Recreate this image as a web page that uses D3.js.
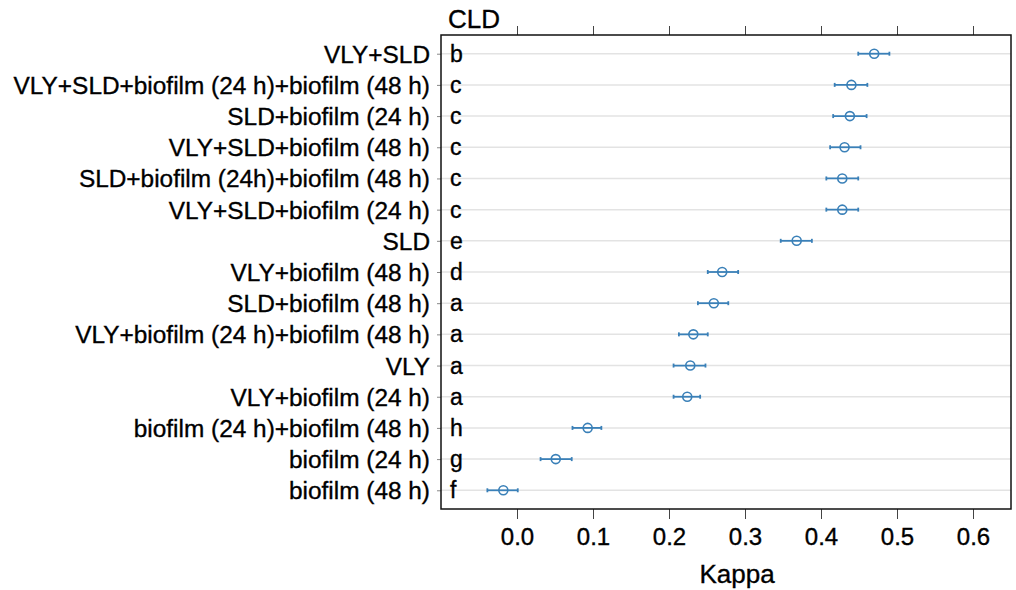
<!DOCTYPE html>
<html>
<head>
<meta charset="utf-8">
<script src="https://cdn.jsdelivr.net/npm/d3@7"></script>
<style>
  body { margin: 0; background: #fff; }
  svg text { font-family: "Liberation Sans", Arial, Helvetica, sans-serif; fill: #000; stroke: #000; stroke-width: 0.35px; }
</style>
</head>
<body>
<svg id="chart" width="1016" height="590"></svg>
<script>
// Groupes, de haut en bas
const groups = [
  'VLY+SLD',
  'VLY+SLD+biofilm (24 h)+biofilm (48 h)',
  'SLD+biofilm (24 h)',
  'VLY+SLD+biofilm (48 h)',
  'SLD+biofilm (24h)+biofilm (48 h)',
  'VLY+SLD+biofilm (24 h)',
  'SLD',
  'VLY+biofilm (48 h)',
  'SLD+biofilm (48 h)',
  'VLY+biofilm (24 h)+biofilm (48 h)',
  'VLY',
  'VLY+biofilm (24 h)',
  'biofilm (24 h)+biofilm (48 h)',
  'biofilm (24 h)',
  'biofilm (48 h)'
]
const cldLetters = ['b', 'c', 'c', 'c', 'c', 'c', 'e', 'd', 'a', 'a', 'a', 'a', 'h', 'g', 'f']
const kappa = [0.470, 0.440, 0.438, 0.431, 0.428, 0.428, 0.368, 0.270, 0.259, 0.232, 0.228, 0.224, 0.093, 0.051, -0.018]
const lower = [0.449, 0.418, 0.416, 0.412, 0.407, 0.407, 0.347, 0.251, 0.238, 0.213, 0.206, 0.206, 0.073, 0.031, -0.039]
const upper = [0.490, 0.461, 0.460, 0.452, 0.449, 0.449, 0.388, 0.291, 0.278, 0.251, 0.248, 0.241, 0.111, 0.072, 0.001]
const xTicks = [0, 0.1, 0.2, 0.3, 0.4, 0.5, 0.6]

const data = groups.map((g, i) => ({ group: g, letter: cldLetters[i], k: kappa[i], lo: lower[i], hi: upper[i] }))

const frame = { left: 441, right: 1011, top: 35, bottom: 509 }
const pointColor = '#3a80b8'

const svg = d3.select('#chart')

const xScale = d3.scaleLinear()
  .domain([-0.1, 0.65])
  .range([frame.left, frame.right])

const yScale = d3.scalePoint()
  .domain(groups)
  .range([frame.top, frame.bottom])
  .padding(0.6)

// Lignes de grille horizontales
svg.append('g')
  .selectAll('line')
  .data(groups)
  .join('line')
  .attr('x1', frame.left)
  .attr('x2', frame.right)
  .attr('y1', d => yScale(d))
  .attr('y2', d => yScale(d))
  .attr('stroke', '#e3e3e3')
  .attr('stroke-width', 1.5)

// Axe Y (noms des groupes)
const yAxis = svg.append('g')
  .attr('transform', `translate(${frame.left},0)`)
  .call(d3.axisLeft(yScale).tickSize(4).tickPadding(7))
yAxis.select('.domain').remove()
yAxis.selectAll('.tick line').attr('stroke', '#888')
yAxis.selectAll('.tick text')
  .style('font-size', '24.4px')
  .attr('dy', '0.35em')
  .attr('fill', '#000')

// Axe X du bas
const xAxis = svg.append('g')
  .attr('transform', `translate(0,${frame.bottom})`)
  .call(d3.axisBottom(xScale).tickValues(xTicks).tickSize(10).tickFormat(d3.format('.1f')))
xAxis.select('.domain').remove()
xAxis.selectAll('.tick line').attr('stroke', '#444')
xAxis.selectAll('.tick text')
  .style('font-size', '24px')
  .attr('y', 36)
  .attr('dy', 0)
  .attr('fill', '#000')

// Axe X du haut, sans étiquettes
const xTop = svg.append('g')
  .attr('transform', `translate(0,${frame.top})`)
  .call(d3.axisTop(xScale).tickValues(xTicks).tickSize(9).tickFormat(''))
xTop.select('.domain').remove()
xTop.selectAll('.tick line').attr('stroke', '#444')

// Cadre
svg.append('rect')
  .attr('x', frame.left)
  .attr('y', frame.top)
  .attr('width', frame.right - frame.left)
  .attr('height', frame.bottom - frame.top)
  .attr('fill', 'none')
  .attr('stroke', '#111')
  .attr('stroke-width', 1.5)

// Lettres CLD
svg.append('g')
  .selectAll('text')
  .data(data)
  .join('text')
  .attr('x', 450)
  .attr('y', d => yScale(d.group))
  .attr('dy', '0.35em')
  .style('font-size', '23px')
  .text(d => d.letter)

svg.append('text')
  .attr('x', 448)
  .attr('y', 28)
  .style('font-size', '26px')
  .text('CLD')

// Intervalles de confiance
const ci = svg.append('g')
  .attr('stroke', pointColor)
  .attr('stroke-width', 1.8)
  .attr('fill', 'none')

ci.selectAll('.bar')
  .data(data)
  .join('line')
  .attr('class', 'bar')
  .attr('x1', d => xScale(d.lo))
  .attr('x2', d => xScale(d.hi))
  .attr('y1', d => yScale(d.group))
  .attr('y2', d => yScale(d.group))

ci.selectAll('.cap-lo')
  .data(data)
  .join('line')
  .attr('class', 'cap-lo')
  .attr('x1', d => xScale(d.lo))
  .attr('x2', d => xScale(d.lo))
  .attr('y1', d => yScale(d.group) - 2)
  .attr('y2', d => yScale(d.group) + 2)

ci.selectAll('.cap-hi')
  .data(data)
  .join('line')
  .attr('class', 'cap-hi')
  .attr('x1', d => xScale(d.hi))
  .attr('x2', d => xScale(d.hi))
  .attr('y1', d => yScale(d.group) - 2)
  .attr('y2', d => yScale(d.group) + 2)

// Points (estimations)
svg.append('g')
  .selectAll('circle')
  .data(data)
  .join('circle')
  .attr('cx', d => xScale(d.k))
  .attr('cy', d => yScale(d.group))
  .attr('r', 4.5)
  .attr('fill', 'none')
  .attr('stroke', pointColor)
  .attr('stroke-width', 1.6)

// Titre de l'axe X
svg.append('text')
  .attr('x', 737)
  .attr('y', 583)
  .attr('text-anchor', 'middle')
  .style('font-size', '26px')
  .text('Kappa')
</script>
</body>
</html>
